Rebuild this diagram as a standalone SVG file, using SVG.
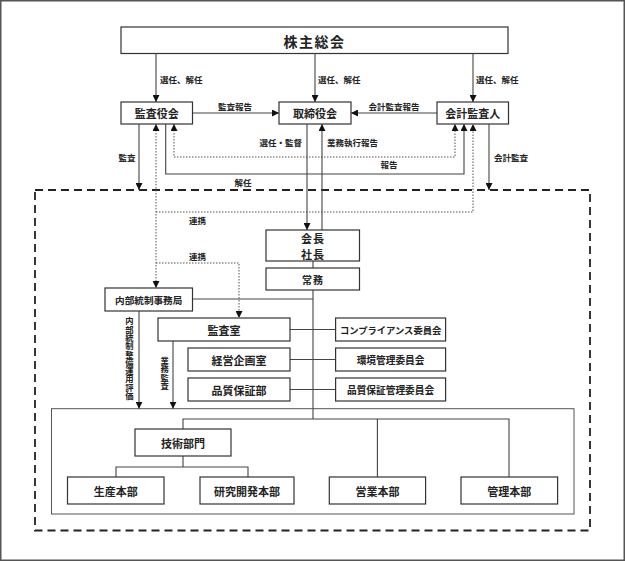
<svg xmlns="http://www.w3.org/2000/svg" width="625" height="561" viewBox="0 0 625 561">
<style>
text{font-family:"Noto Sans CJK JP","Noto Sans",sans-serif;font-weight:700;fill:#222;text-anchor:middle;dominant-baseline:central}
.box{fill:#fff;stroke:#333;stroke-width:1.2}
.ln{fill:none;stroke:#444;stroke-width:1.1}
.dot{fill:none;stroke:#555;stroke-width:1;stroke-dasharray:1.5 1.5}
.lbl{font-size:8.5px}
.b11{font-size:11px}
.s{text-anchor:start}
.e{text-anchor:end}
.vt{font-size:8.3px;writing-mode:vertical-rl;text-anchor:middle}
</style>
<defs>
<marker id="ah" viewBox="0 0 10 10" refX="10" refY="5" markerWidth="7" markerHeight="7" markerUnits="userSpaceOnUse" orient="auto-start-reverse"><path d="M0,0L10,5L0,10z" fill="#111"/></marker>
</defs>
<rect x="0.75" y="0.75" width="623.5" height="559.5" fill="#fff" stroke="#555" stroke-width="1.5"/>
<rect id="company" x="35" y="190" width="555" height="340.5" fill="none" stroke="#222" stroke-width="1.8" stroke-dasharray="8 5"/>
<rect id="divisions" x="51.5" y="408.7" width="522.5" height="105.3" fill="none" stroke="#555" stroke-width="1"/>
<g id="connectors">
<path class="ln" d="M156,53V102" marker-end="url(#ah)"/>
<path class="ln" d="M315,53V102" marker-end="url(#ah)"/>
<path class="ln" d="M473,53V102" marker-end="url(#ah)"/>
<path class="ln" d="M192.5,113H279" marker-end="url(#ah)"/>
<path class="ln" d="M437,113H351" marker-end="url(#ah)"/>
<path class="ln" d="M139,124V190" marker-end="url(#ah)"/>
<path class="ln" d="M489,124V190" marker-end="url(#ah)"/>
<path class="dot" d="M174,124V157H455V124" marker-start="url(#ah)" marker-end="url(#ah)"/>
<path class="ln" d="M165.7,124V174H464V124" marker-end="url(#ah)"/>
<path class="dot" d="M156,124V288" marker-start="url(#ah)" marker-end="url(#ah)"/>
<path class="dot" d="M156,212H473V124" marker-end="url(#ah)"/>
<path class="dot" d="M156,263H239V318" marker-end="url(#ah)"/>
<path class="ln" d="M307,124V230" marker-end="url(#ah)"/>
<path class="ln" d="M322,230V124" marker-end="url(#ah)"/>
<path class="ln" d="M313,261V268M313,290V419M192.5,299H313"/>
<path class="ln" d="M290,329.5H335.6M290,359.5H335.6M290,389.5H335.6"/>
<path class="ln" d="M139,311V408.7" marker-end="url(#ah)"/>
<path class="ln" d="M173,341V408.7" marker-end="url(#ah)"/>
<path class="ln" d="M183,429V419H509V477M377.4,419V477"/>
<path class="ln" d="M183,456V467M116,477V467H248V477"/>
</g>
<g id="labels">
<text class="lbl s" x="160" y="79">選任、解任</text>
<text class="lbl s" x="318" y="79">選任、解任</text>
<text class="lbl s" x="476" y="79">選任、解任</text>
<text class="lbl" x="235" y="106">監査報告</text>
<text class="lbl" x="394" y="106">会計監査報告</text>
<text class="lbl e" x="302" y="141.5">選任・監督</text>
<text class="lbl s" x="327" y="141.5">業務執行報告</text>
<text class="lbl" x="127" y="157">監査</text>
<text class="lbl" x="511" y="157">会計監査</text>
<text class="lbl" x="389" y="164">報告</text>
<text class="lbl" x="243" y="182">解任</text>
<text class="lbl" x="197.5" y="220">連携</text>
<text class="lbl" x="197.5" y="256">連携</text>
<text class="vt" x="129.5" y="358.5">内部統制整備運用評価</text>
<text class="vt" x="164.6" y="373.5">業務監査</text>
</g>
<g id="n_shareholders"><rect class="box" x="121" y="27" width="387" height="26.5"/><text x="314.5" y="40.5" style="font-size:14px;letter-spacing:1.5px">株主総会</text></g>
<g id="n_auditboard"><rect class="box" x="121" y="102" width="71.5" height="22"/><text class="b11" x="156.75" y="113">監査役会</text></g>
<g id="n_board"><rect class="box" x="279" y="102" width="72" height="22"/><text class="b11" x="315" y="113">取締役会</text></g>
<g id="n_accountant"><rect class="box" x="437" y="102" width="71.5" height="22"/><text class="b11" x="472.75" y="113">会計監査人</text></g>
<g id="n_president"><rect class="box" x="266" y="230" width="93.5" height="31"/><text class="b11" x="313" y="238" style="letter-spacing:1px"><tspan x="313" y="238">会長</tspan><tspan x="313" y="254">社長</tspan></text></g>
<g id="n_managing"><rect class="box" x="266" y="268" width="93.5" height="22"/><text x="313" y="279" style="font-size:10px;letter-spacing:1px">常務</text></g>
<g id="n_internalcontrol"><rect class="box" x="105" y="288" width="87.5" height="23"/><text x="148.7" y="299.5" style="font-size:9.6px">内部統制事務局</text></g>
<g id="n_auditoffice"><rect class="box" x="158" y="318" width="132" height="23"/><text class="b11" x="224" y="329.5">監査室</text></g>
<g id="n_planning"><rect class="box" x="188" y="348" width="102" height="23"/><text class="b11" x="239" y="359.5">経営企画室</text></g>
<g id="n_qa"><rect class="box" x="188" y="378" width="102" height="23"/><text class="b11" x="239" y="389.5">品質保証部</text></g>
<g id="n_compliance"><rect class="box" x="335.6" y="318" width="110" height="23"/><text x="390.6" y="329.5" style="font-size:9.3px">コンプライアンス委員会</text></g>
<g id="n_env"><rect class="box" x="335.6" y="348" width="110" height="23"/><text x="390.6" y="359.5" style="font-size:9.7px">環境管理委員会</text></g>
<g id="n_qacommittee"><rect class="box" x="335.6" y="378" width="110" height="23"/><text x="390.6" y="389.5" style="font-size:9.7px">品質保証管理委員会</text></g>
<g id="n_tech"><rect class="box" x="135" y="429" width="96" height="27"/><text class="b11" x="183" y="442.5">技術部門</text></g>
<g id="n_production"><rect class="box" x="67.5" y="477" width="96.5" height="27"/><text class="b11" x="115.7" y="490.5">生産本部</text></g>
<g id="n_rd"><rect class="box" x="200" y="477" width="94" height="27"/><text class="b11" x="247" y="490.5">研究開発本部</text></g>
<g id="n_sales"><rect class="box" x="329.3" y="477" width="96.3" height="27"/><text class="b11" x="377.4" y="490.5">営業本部</text></g>
<g id="n_admin"><rect class="box" x="461" y="477" width="96.6" height="27"/><text class="b11" x="509.3" y="490.5">管理本部</text></g>
</svg>
